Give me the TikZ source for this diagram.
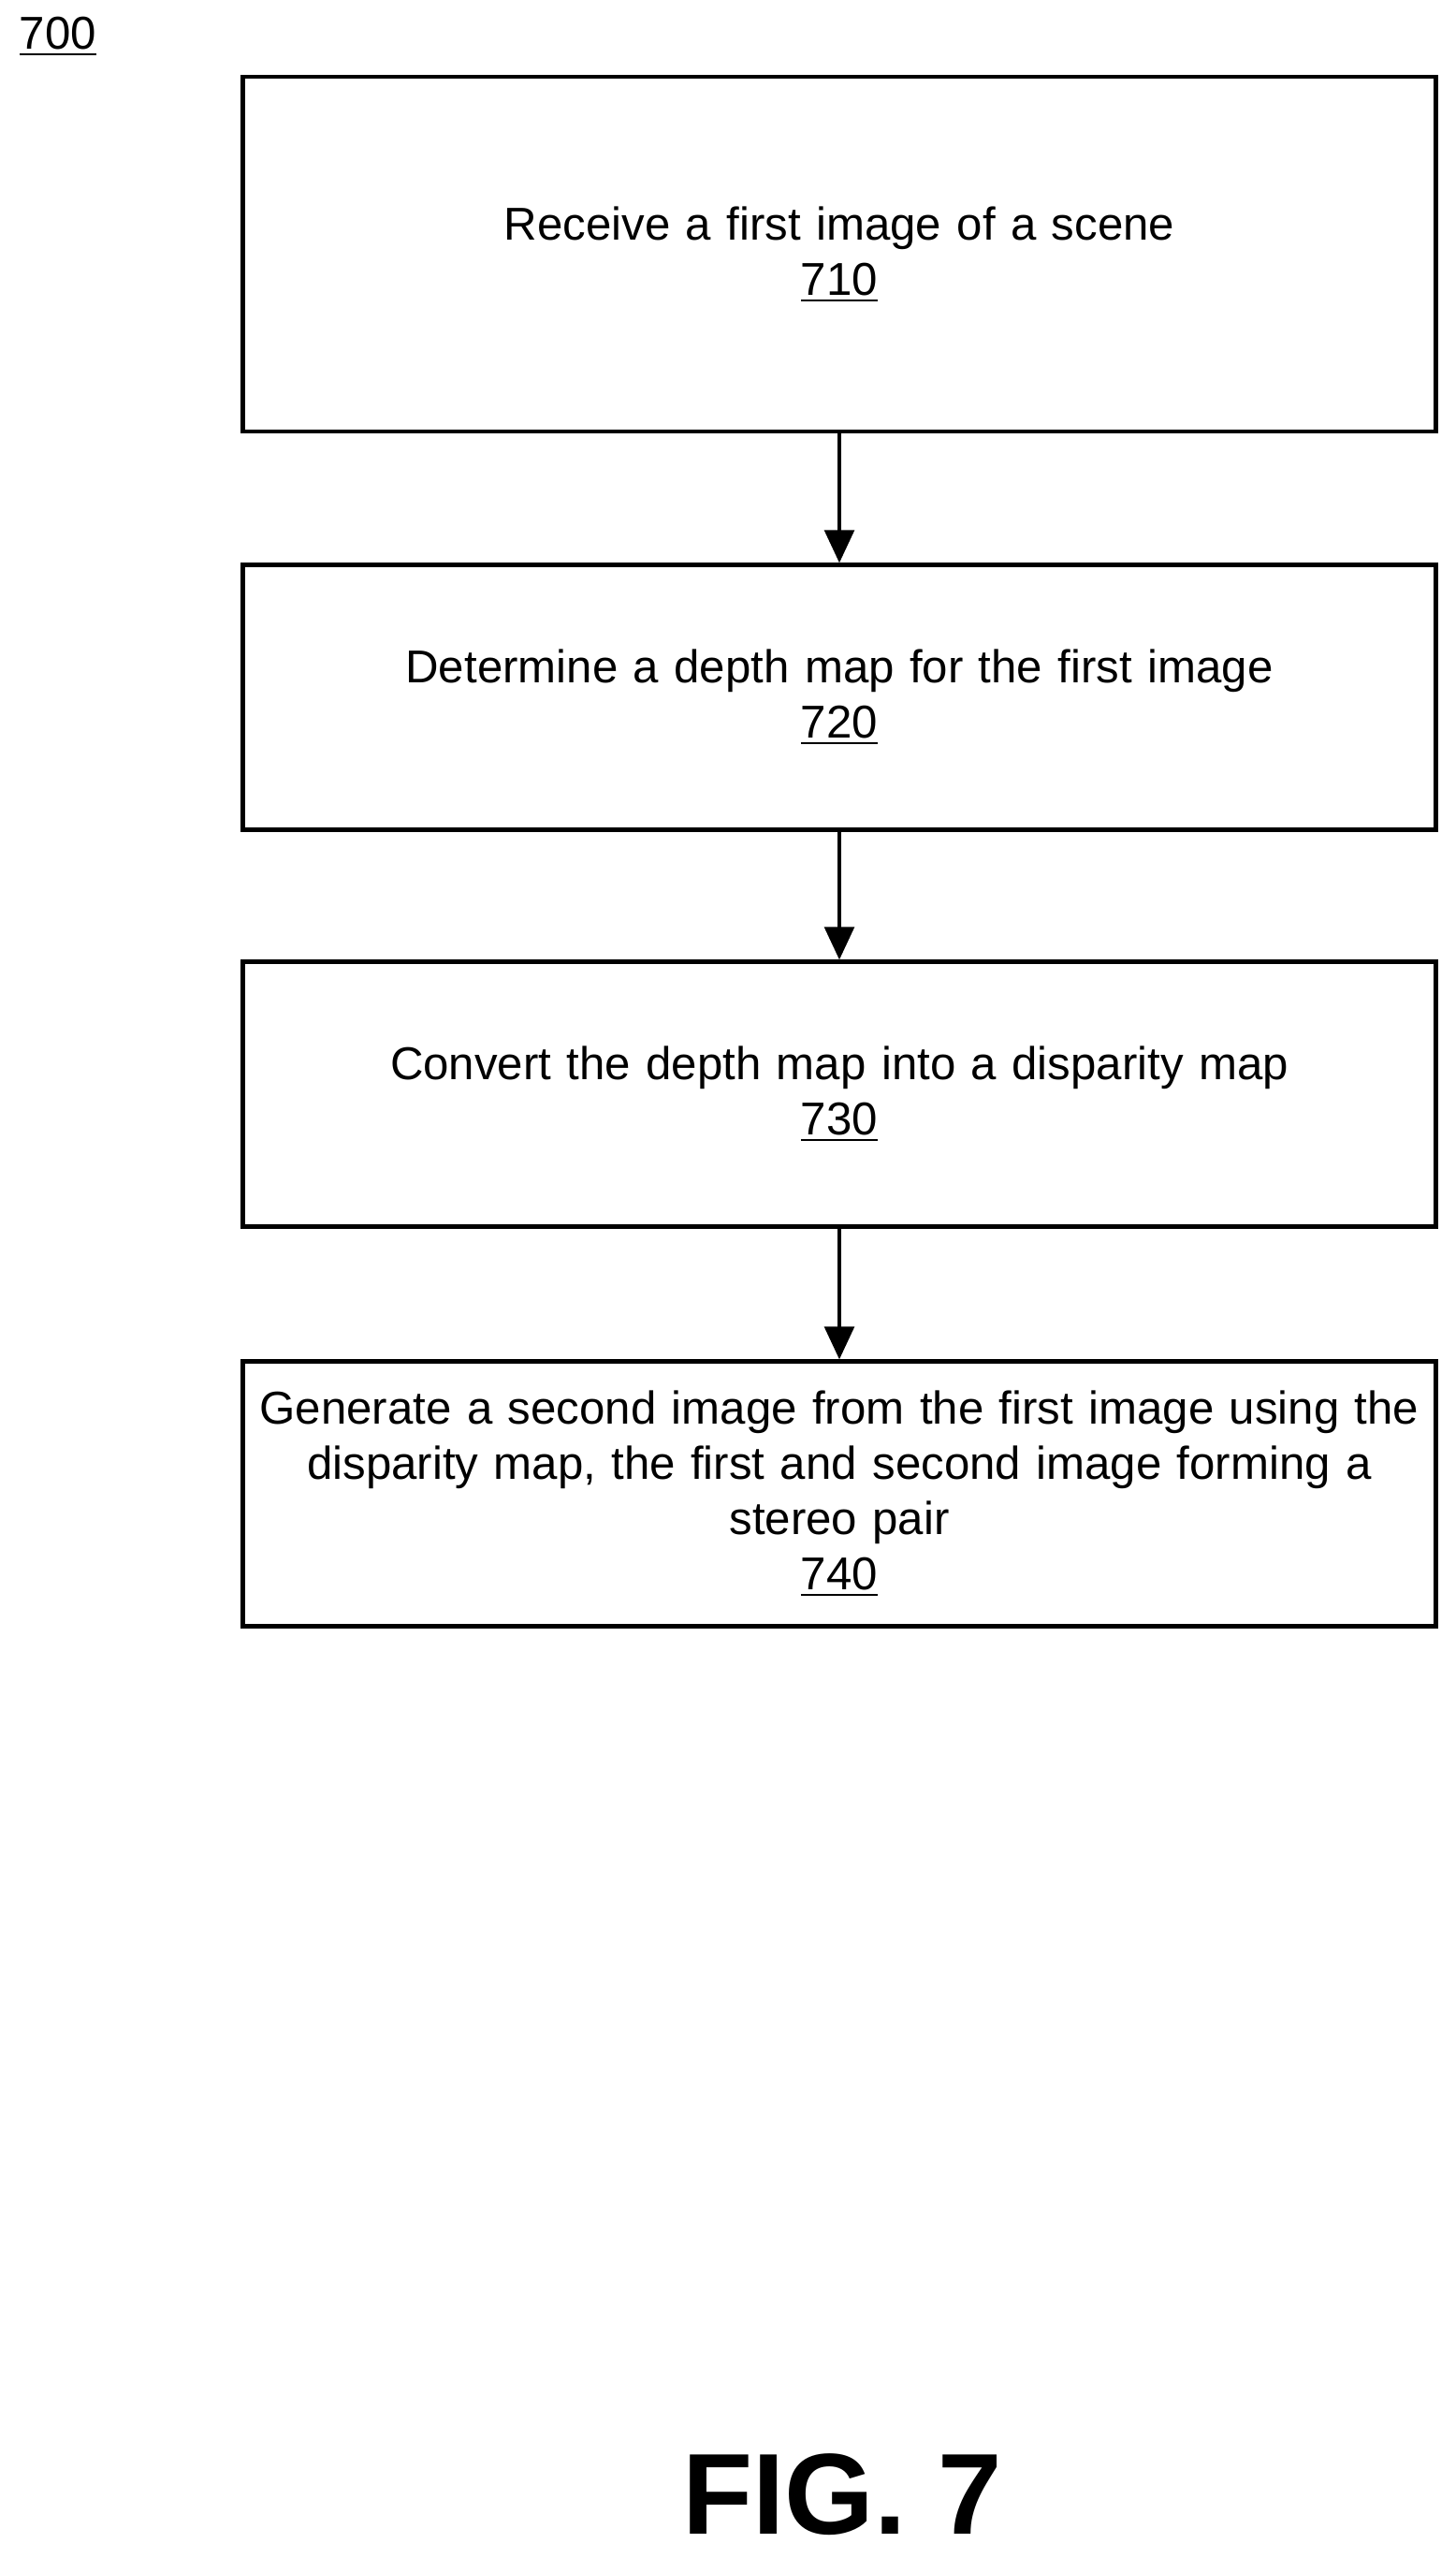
\documentclass[tikz,border=0pt]{standalone}
\usepackage{fontspec}
\setmainfont{Liberation Sans}
\usetikzlibrary{arrows.meta}

\begin{document}
\begin{tikzpicture}
\tikzstyle{stepbox}=[
	draw,
	line width=1.2pt,
	minimum width=12.75cm,
	text width=12.5cm,
	align=center,
	font=\fontsize{14}{16.8}\selectfont ]
\tikzstyle{flow}=[-{Triangle[length=10pt,width=9pt]}, line width=1.2pt]
\useasboundingbox (0,0) rectangle (15.56,-27.33);
\node[font=\fontsize{14}{16.8}\selectfont] (fig) at (0.62,-0.39) {\underline{700}};
\node[stepbox, minimum height=3.79cm] (recv) at (8.97,-2.718) {Receive a first image of a scene\\\underline{710}};
\node[stepbox, minimum height=2.83cm] (depth) at (8.97,-7.45) {Determine a depth map for the first image\\\underline{720}};
\node[stepbox, minimum height=2.83cm] (conv) at (8.97,-11.69) {Convert the depth map into a disparity map\\\underline{730}};
\node[stepbox, minimum height=2.83cm] (gen) at (8.97,-15.96) {Generate a second image from the first image using the\\disparity map, the first and second image forming a\\stereo pair\\\underline{740}};
\draw[flow] (recv) -- (depth);
\draw[flow] (depth) -- (conv);
\draw[flow] (conv) -- (gen);
\node[font=\fontsize{35}{40}\selectfont\bfseries] (title) at (9.0,-26.65) {FIG. 7};
\end{tikzpicture}
\end{document}
